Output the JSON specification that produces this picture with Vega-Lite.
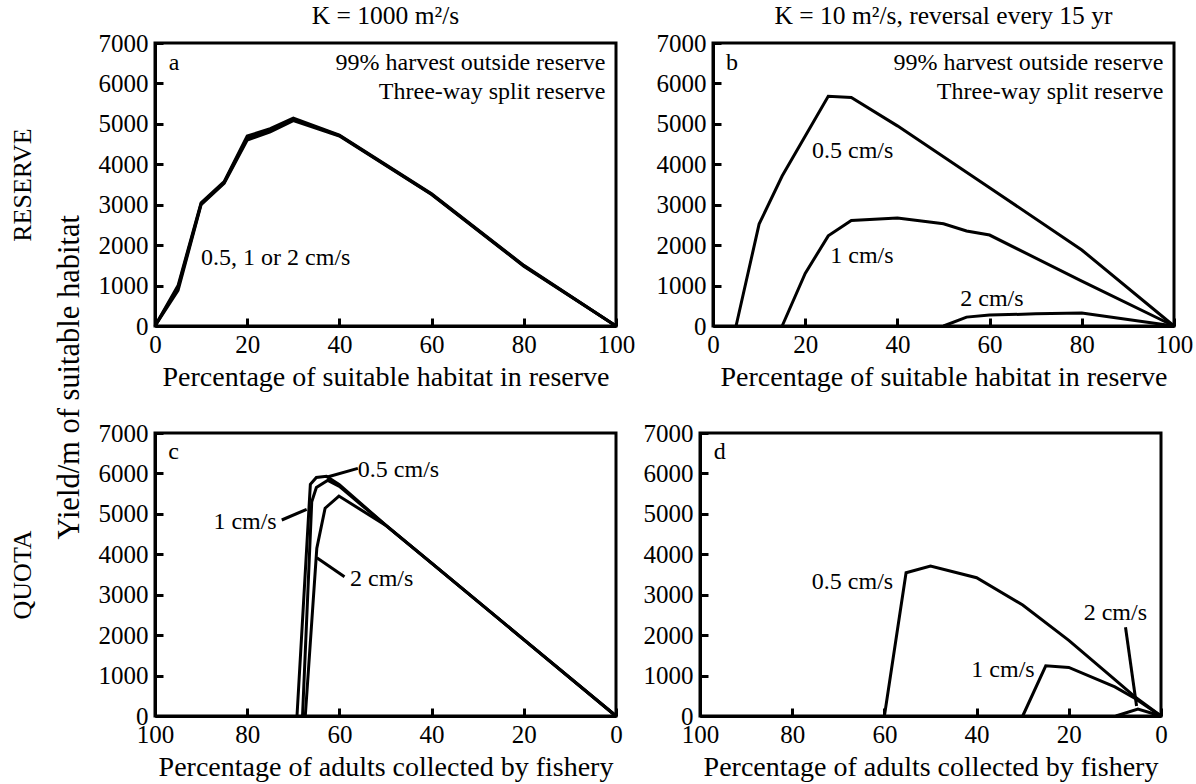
{
  "$schema": "https://vega.github.io/schema/vega-lite/v6.json",
  "padding": {"left": 7, "top": 2, "right": 5, "bottom": 5},
  "background": "white",
  "spacing": 26,
  "title": {"text": "Yield/m of suitable habitat", "orient": "left", "anchor": "middle", "fontSize": 30.5, "offset": -78, "dx": 15},
  "datasets": {
    "curves": [
      {"panel": "a", "speed": "0.5", "x": 0, "y": 0},
      {"panel": "a", "speed": "0.5", "x": 5, "y": 1000},
      {"panel": "a", "speed": "0.5", "x": 10, "y": 3050},
      {"panel": "a", "speed": "0.5", "x": 15, "y": 3570},
      {"panel": "a", "speed": "0.5", "x": 20, "y": 4700},
      {"panel": "a", "speed": "0.5", "x": 25, "y": 4880},
      {"panel": "a", "speed": "0.5", "x": 30, "y": 5140},
      {"panel": "a", "speed": "0.5", "x": 40, "y": 4720},
      {"panel": "a", "speed": "0.5", "x": 60, "y": 3270},
      {"panel": "a", "speed": "0.5", "x": 80, "y": 1500},
      {"panel": "a", "speed": "0.5", "x": 100, "y": 0},
      {"panel": "a", "speed": "1", "x": 0, "y": 0},
      {"panel": "a", "speed": "1", "x": 5, "y": 950},
      {"panel": "a", "speed": "1", "x": 10, "y": 3020},
      {"panel": "a", "speed": "1", "x": 15, "y": 3550},
      {"panel": "a", "speed": "1", "x": 20, "y": 4650},
      {"panel": "a", "speed": "1", "x": 25, "y": 4840},
      {"panel": "a", "speed": "1", "x": 30, "y": 5110},
      {"panel": "a", "speed": "1", "x": 40, "y": 4710},
      {"panel": "a", "speed": "1", "x": 60, "y": 3260},
      {"panel": "a", "speed": "1", "x": 80, "y": 1490},
      {"panel": "a", "speed": "1", "x": 100, "y": 0},
      {"panel": "a", "speed": "2", "x": 0, "y": 0},
      {"panel": "a", "speed": "2", "x": 5, "y": 880},
      {"panel": "a", "speed": "2", "x": 10, "y": 3000},
      {"panel": "a", "speed": "2", "x": 15, "y": 3530},
      {"panel": "a", "speed": "2", "x": 20, "y": 4600},
      {"panel": "a", "speed": "2", "x": 25, "y": 4800},
      {"panel": "a", "speed": "2", "x": 30, "y": 5080},
      {"panel": "a", "speed": "2", "x": 40, "y": 4700},
      {"panel": "a", "speed": "2", "x": 60, "y": 3250},
      {"panel": "a", "speed": "2", "x": 80, "y": 1480},
      {"panel": "a", "speed": "2", "x": 100, "y": 0},
      {"panel": "b", "speed": "0.5", "x": 5, "y": 0},
      {"panel": "b", "speed": "0.5", "x": 10, "y": 2520},
      {"panel": "b", "speed": "0.5", "x": 15, "y": 3710},
      {"panel": "b", "speed": "0.5", "x": 25, "y": 5680},
      {"panel": "b", "speed": "0.5", "x": 30, "y": 5650},
      {"panel": "b", "speed": "0.5", "x": 40, "y": 4950},
      {"panel": "b", "speed": "0.5", "x": 60, "y": 3420},
      {"panel": "b", "speed": "0.5", "x": 80, "y": 1880},
      {"panel": "b", "speed": "0.5", "x": 100, "y": 0},
      {"panel": "b", "speed": "1", "x": 15, "y": 0},
      {"panel": "b", "speed": "1", "x": 20, "y": 1300},
      {"panel": "b", "speed": "1", "x": 25, "y": 2230},
      {"panel": "b", "speed": "1", "x": 30, "y": 2610},
      {"panel": "b", "speed": "1", "x": 40, "y": 2670},
      {"panel": "b", "speed": "1", "x": 50, "y": 2530},
      {"panel": "b", "speed": "1", "x": 55, "y": 2350},
      {"panel": "b", "speed": "1", "x": 60, "y": 2250},
      {"panel": "b", "speed": "1", "x": 80, "y": 1110},
      {"panel": "b", "speed": "1", "x": 100, "y": 0},
      {"panel": "b", "speed": "2", "x": 50, "y": 0},
      {"panel": "b", "speed": "2", "x": 55, "y": 220},
      {"panel": "b", "speed": "2", "x": 60, "y": 270},
      {"panel": "b", "speed": "2", "x": 70, "y": 300},
      {"panel": "b", "speed": "2", "x": 80, "y": 320},
      {"panel": "b", "speed": "2", "x": 100, "y": 0},
      {"panel": "c", "speed": "0.5", "x": 68.0, "y": 0},
      {"panel": "c", "speed": "0.5", "x": 66.0, "y": 5300},
      {"panel": "c", "speed": "0.5", "x": 65.0, "y": 5650},
      {"panel": "c", "speed": "0.5", "x": 62.5, "y": 5830},
      {"panel": "c", "speed": "0.5", "x": 60, "y": 5680},
      {"panel": "c", "speed": "0.5", "x": 55, "y": 5200},
      {"panel": "c", "speed": "0.5", "x": 50, "y": 4720},
      {"panel": "c", "speed": "0.5", "x": 40, "y": 3780},
      {"panel": "c", "speed": "0.5", "x": 20, "y": 1890},
      {"panel": "c", "speed": "0.5", "x": 0, "y": 0},
      {"panel": "c", "speed": "1", "x": 69.2, "y": 0},
      {"panel": "c", "speed": "1", "x": 66.3, "y": 5730},
      {"panel": "c", "speed": "1", "x": 65.0, "y": 5900},
      {"panel": "c", "speed": "1", "x": 62.8, "y": 5930},
      {"panel": "c", "speed": "1", "x": 60, "y": 5720},
      {"panel": "c", "speed": "1", "x": 55, "y": 5220},
      {"panel": "c", "speed": "1", "x": 50, "y": 4730},
      {"panel": "c", "speed": "1", "x": 40, "y": 3780},
      {"panel": "c", "speed": "1", "x": 20, "y": 1890},
      {"panel": "c", "speed": "1", "x": 0, "y": 0},
      {"panel": "c", "speed": "2", "x": 67.4, "y": 0},
      {"panel": "c", "speed": "2", "x": 64.9, "y": 4150},
      {"panel": "c", "speed": "2", "x": 63.1, "y": 5140},
      {"panel": "c", "speed": "2", "x": 60.1, "y": 5440},
      {"panel": "c", "speed": "2", "x": 50, "y": 4720},
      {"panel": "c", "speed": "2", "x": 40, "y": 3780},
      {"panel": "c", "speed": "2", "x": 20, "y": 1890},
      {"panel": "c", "speed": "2", "x": 0, "y": 0},
      {"panel": "d", "speed": "0.5", "x": 60, "y": 0},
      {"panel": "d", "speed": "0.5", "x": 55.3, "y": 3545},
      {"panel": "d", "speed": "0.5", "x": 50, "y": 3710},
      {"panel": "d", "speed": "0.5", "x": 40, "y": 3420},
      {"panel": "d", "speed": "0.5", "x": 30, "y": 2745},
      {"panel": "d", "speed": "0.5", "x": 20, "y": 1870},
      {"panel": "d", "speed": "0.5", "x": 10, "y": 900},
      {"panel": "d", "speed": "0.5", "x": 5.7, "y": 480},
      {"panel": "d", "speed": "0.5", "x": 0, "y": 0},
      {"panel": "d", "speed": "1", "x": 30, "y": 0},
      {"panel": "d", "speed": "1", "x": 25, "y": 1240},
      {"panel": "d", "speed": "1", "x": 20, "y": 1200},
      {"panel": "d", "speed": "1", "x": 10, "y": 720},
      {"panel": "d", "speed": "1", "x": 5.7, "y": 440},
      {"panel": "d", "speed": "1", "x": 0, "y": 0},
      {"panel": "d", "speed": "2", "x": 9.8, "y": 0},
      {"panel": "d", "speed": "2", "x": 5, "y": 170},
      {"panel": "d", "speed": "2", "x": 0, "y": 0}
    ],
    "labels": [
      {"panel": "a", "align": "left", "x": 3, "y": 6510, "text": "a"},
      {"panel": "a", "align": "right", "x": 97.7, "y": 6510, "text": "99% harvest outside reserve"},
      {"panel": "a", "align": "right", "x": 97.7, "y": 5800, "text": "Three-way split reserve"},
      {"panel": "a", "align": "left", "x": 10, "y": 1690, "text": "0.5, 1 or 2 cm/s"},
      {"panel": "b", "align": "left", "x": 2.8, "y": 6510, "text": "b"},
      {"panel": "b", "align": "right", "x": 97.7, "y": 6510, "text": "99% harvest outside reserve"},
      {"panel": "b", "align": "right", "x": 97.7, "y": 5800, "text": "Three-way split reserve"},
      {"panel": "b", "align": "center", "x": 30.3, "y": 4330, "text": "0.5 cm/s"},
      {"panel": "b", "align": "center", "x": 32.3, "y": 1733, "text": "1 cm/s"},
      {"panel": "b", "align": "center", "x": 60.5, "y": 660, "text": "2 cm/s"},
      {"panel": "c", "align": "left", "x": 97.1, "y": 6537, "text": "c"},
      {"panel": "c", "align": "left", "x": 56.0, "y": 6085, "text": "0.5 cm/s"},
      {"panel": "c", "align": "right", "x": 73.6, "y": 4806, "text": "1 cm/s"},
      {"panel": "c", "align": "left", "x": 57.7, "y": 3381, "text": "2 cm/s"},
      {"panel": "d", "align": "left", "x": 97.0, "y": 6530, "text": "d"},
      {"panel": "d", "align": "right", "x": 58.1, "y": 3322, "text": "0.5 cm/s"},
      {"panel": "d", "align": "right", "x": 27.4, "y": 1138, "text": "1 cm/s"},
      {"panel": "d", "align": "center", "x": 9.9, "y": 2555, "text": "2 cm/s"}
    ],
    "leaders": [
      {"panel": "c", "x": 56.0, "y": 6126, "x2": 62.8, "y2": 5904},
      {"panel": "c", "x": 72.5, "y": 4848, "x2": 67.1, "y2": 5112},
      {"panel": "c", "x": 58.9, "y": 3446, "x2": 64.9, "y2": 3916},
      {"panel": "d", "x": 7.7, "y": 2194, "x2": 5.3, "y2": 247}
    ]
  },
  "vconcat": [
    {
      "spacing": 17,
      "hconcat": [
        {
          "width": 461, "height": 283,
          "title": {"text": "K = 1000 m²/s", "anchor": "middle", "frame": "group", "fontSize": 25.5, "offset": 2},
          "encoding": {
            "x": {"field": "x", "type": "quantitative", "scale": {"domain": [0, 100], "nice": false},
                  "axis": {"values": [0, 20, 40, 60, 80, 100], "title": "Percentage of suitable habitat in reserve"}},
            "y": {"field": "y", "type": "quantitative", "scale": {"domain": [0, 7000], "nice": false},
                  "axis": {"values": [0, 1000, 2000, 3000, 4000, 5000, 6000, 7000], "format": "d", "title": "RESERVE", "titleFontSize": 26, "titlePadding": 63}}
          },
          "layer": [
            {"data": {"name": "curves"}, "transform": [{"filter": "datum.panel === 'a'"}],
             "mark": {"type": "line", "color": "black", "strokeWidth": 3},
             "encoding": {"detail": {"field": "speed"}}},
            {"data": {"name": "labels"}, "transform": [{"filter": "datum.panel === 'a' && datum.align === 'left'"}],
             "mark": {"type": "text", "align": "left", "baseline": "middle", "fontSize": 24, "color": "black"},
             "encoding": {"text": {"field": "text"}}},
            {"data": {"name": "labels"}, "transform": [{"filter": "datum.panel === 'a' && datum.align === 'right'"}],
             "mark": {"type": "text", "align": "right", "baseline": "middle", "fontSize": 24, "color": "black"},
             "encoding": {"text": {"field": "text"}}}
          ]
        },
        {
          "width": 461, "height": 283,
          "title": {"text": "K = 10 m²/s, reversal every 15 yr", "anchor": "middle", "frame": "group", "fontSize": 25.5, "offset": 2},
          "encoding": {
            "x": {"field": "x", "type": "quantitative", "scale": {"domain": [0, 100], "nice": false},
                  "axis": {"values": [0, 20, 40, 60, 80, 100], "title": "Percentage of suitable habitat in reserve"}},
            "y": {"field": "y", "type": "quantitative", "scale": {"domain": [0, 7000], "nice": false},
                  "axis": {"values": [0, 1000, 2000, 3000, 4000, 5000, 6000, 7000], "format": "d", "title": null}}
          },
          "layer": [
            {"data": {"name": "curves"}, "transform": [{"filter": "datum.panel === 'b'"}],
             "mark": {"type": "line", "color": "black", "strokeWidth": 3},
             "encoding": {"detail": {"field": "speed"}}},
            {"data": {"name": "labels"}, "transform": [{"filter": "datum.panel === 'b' && datum.align === 'left'"}],
             "mark": {"type": "text", "align": "left", "baseline": "middle", "fontSize": 24, "color": "black"},
             "encoding": {"text": {"field": "text"}}},
            {"data": {"name": "labels"}, "transform": [{"filter": "datum.panel === 'b' && datum.align === 'right'"}],
             "mark": {"type": "text", "align": "right", "baseline": "middle", "fontSize": 24, "color": "black"},
             "encoding": {"text": {"field": "text"}}},
            {"data": {"name": "labels"}, "transform": [{"filter": "datum.panel === 'b' && datum.align === 'center'"}],
             "mark": {"type": "text", "align": "center", "baseline": "middle", "fontSize": 24, "color": "black"},
             "encoding": {"text": {"field": "text"}}}
          ]
        }
      ]
    },
    {
      "spacing": 17,
      "hconcat": [
        {
          "width": 461, "height": 283,
          "encoding": {
            "x": {"field": "x", "type": "quantitative", "scale": {"domain": [0, 100], "nice": false, "reverse": true},
                  "axis": {"values": [0, 20, 40, 60, 80, 100], "title": "Percentage of adults collected by fishery"}},
            "y": {"field": "y", "type": "quantitative", "scale": {"domain": [0, 7000], "nice": false},
                  "axis": {"values": [0, 1000, 2000, 3000, 4000, 5000, 6000, 7000], "format": "d", "title": "QUOTA", "titleFontSize": 26, "titlePadding": 63}}
          },
          "layer": [
            {"data": {"name": "curves"}, "transform": [{"filter": "datum.panel === 'c'"}],
             "mark": {"type": "line", "color": "black", "strokeWidth": 3},
             "encoding": {"detail": {"field": "speed"}}},
            {"data": {"name": "leaders"}, "transform": [{"filter": "datum.panel === 'c'"}],
             "mark": {"type": "rule", "color": "black", "strokeWidth": 3},
             "encoding": {"x2": {"field": "x2"}, "y2": {"field": "y2"}}},
            {"data": {"name": "labels"}, "transform": [{"filter": "datum.panel === 'c' && datum.align === 'left'"}],
             "mark": {"type": "text", "align": "left", "baseline": "middle", "fontSize": 24, "color": "black"},
             "encoding": {"text": {"field": "text"}}},
            {"data": {"name": "labels"}, "transform": [{"filter": "datum.panel === 'c' && datum.align === 'right'"}],
             "mark": {"type": "text", "align": "right", "baseline": "middle", "fontSize": 24, "color": "black"},
             "encoding": {"text": {"field": "text"}}}
          ]
        },
        {
          "width": 461, "height": 283,
          "encoding": {
            "x": {"field": "x", "type": "quantitative", "scale": {"domain": [0, 100], "nice": false, "reverse": true},
                  "axis": {"values": [0, 20, 40, 60, 80, 100], "title": "Percentage of adults collected by fishery"}},
            "y": {"field": "y", "type": "quantitative", "scale": {"domain": [0, 7000], "nice": false},
                  "axis": {"values": [0, 1000, 2000, 3000, 4000, 5000, 6000, 7000], "format": "d", "title": null}}
          },
          "layer": [
            {"data": {"name": "curves"}, "transform": [{"filter": "datum.panel === 'd'"}],
             "mark": {"type": "line", "color": "black", "strokeWidth": 3},
             "encoding": {"detail": {"field": "speed"}}},
            {"data": {"name": "leaders"}, "transform": [{"filter": "datum.panel === 'd'"}],
             "mark": {"type": "rule", "color": "black", "strokeWidth": 3},
             "encoding": {"x2": {"field": "x2"}, "y2": {"field": "y2"}}},
            {"data": {"name": "labels"}, "transform": [{"filter": "datum.panel === 'd' && datum.align === 'left'"}],
             "mark": {"type": "text", "align": "left", "baseline": "middle", "fontSize": 24, "color": "black"},
             "encoding": {"text": {"field": "text"}}},
            {"data": {"name": "labels"}, "transform": [{"filter": "datum.panel === 'd' && datum.align === 'right'"}],
             "mark": {"type": "text", "align": "right", "baseline": "middle", "fontSize": 24, "color": "black"},
             "encoding": {"text": {"field": "text"}}},
            {"data": {"name": "labels"}, "transform": [{"filter": "datum.panel === 'd' && datum.align === 'center'"}],
             "mark": {"type": "text", "align": "center", "baseline": "middle", "fontSize": 24, "color": "black"},
             "encoding": {"text": {"field": "text"}}}
          ]
        }
      ]
    }
  ],
  "config": {
    "font": "Liberation Serif",
    "view": {"stroke": "black", "strokeWidth": 3},
    "text": {"font": "Liberation Serif"},
    "title": {"font": "Liberation Serif", "fontWeight": "normal", "color": "black"},
    "axis": {
      "grid": false,
      "domainColor": "black", "domainWidth": 3,
      "tickColor": "black", "tickWidth": 3, "tickSize": -8,
      "labelPadding": 15, "labelFlush": false, "labelOverlap": false,
      "labelFont": "Liberation Serif", "labelFontSize": 25, "labelColor": "black",
      "titleFont": "Liberation Serif", "titleFontSize": 28, "titleFontWeight": "normal", "titleColor": "black", "titlePadding": 6
    },
    "axisX": {"labelPadding": 14}
  }
}
